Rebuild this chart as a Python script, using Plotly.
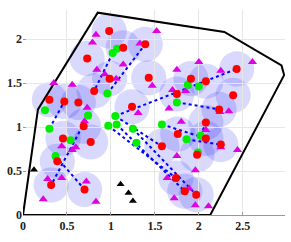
import plotly.graph_objects as go
import numpy as np

# Boundary polygon
boundary_x = [0.0, 0.17, 0.85, 2.29, 2.94, 2.97, 2.13, 0.0]
boundary_y = [0.0, 1.20, 2.30, 2.08, 1.70, 1.59, 0.0, 0.0]

# Red points (final positions, with coverage disks)
red_x = [0.98, 1.14, 0.73, 0.985, 0.81, 0.30, 0.47, 0.63, 1.24, 1.43, 1.39, 1.91, 2.08, 2.43,
         1.75, 2.39, 2.23, 0.69, 0.455, 0.77, 0.39, 0.32, 0.70, 2.08, 1.76, 2.08, 1.58, 2.25,
         1.98, 1.74, 1.84, 1.97]
red_y = [2.09, 1.90, 1.78, 1.55, 1.41, 1.31, 1.29, 1.28, 1.23, 1.56, 1.94, 1.55, 1.52, 1.66,
         1.375, 1.36, 1.20, 1.01, 0.87, 0.83, 0.61, 0.34, 0.29, 1.05, 0.92, 0.87, 0.78, 0.80,
         0.685, 0.42, 0.27, 0.23]
radius = 0.2

# Green points (initial positions)
green_x = [1.02, 1.07, 0.96, 0.25, 0.74, 1.05, 0.30, 0.54, 0.37, 0.97, 1.065, 1.25, 1.29,
           1.875, 2.0, 1.75, 1.58, 1.86, 2.02, 1.99]
green_y = [1.84, 1.89, 1.38, 1.19, 1.13, 1.125, 0.98, 0.85, 0.67, 1.015, 1.03, 0.98, 0.82,
           1.48, 1.46, 1.28, 1.03, 0.86, 0.90, 0.71]

# Trajectory segments: start (x0,y0) -> end (x1,y1)
path_x0 = [1.02, 0.96, 0.30, 0.74, 0.37, 1.05, 1.75, 1.58, 2.02, 1.86, 0.97, 1.065, 1.25, 1.05]
path_y0 = [1.84, 1.38, 0.98, 1.13, 0.67, 1.125, 1.28, 1.03, 0.90, 0.86, 1.015, 1.03, 0.98, 1.125]
path_x1 = [0.81, 1.39, 0.47, 0.32, 0.70, 2.43, 2.23, 2.08, 2.08, 2.25, 1.74, 1.84, 1.97, 1.58]
path_y1 = [1.41, 1.94, 1.29, 0.34, 0.29, 1.66, 1.20, 0.87, 1.05, 0.80, 0.42, 0.27, 0.23, 0.78]

# Covered users (magenta triangles)
user_x = [0.83, 0.79, 0.84, 1.14, 0.93, 1.06, 0.35, 0.56, 0.73, 1.31, 1.33,
          1.52, 2.0, 2.61, 1.75, 2.25, 1.47, 1.70, 1.85, 1.66, 2.24, 2.34,
          0.70, 0.44, 0.56, 0.60, 0.28, 0.44, 0.72, 0.23, 0.83,
          1.80, 2.08, 2.25, 2.44, 1.75, 1.96, 1.64, 1.89, 1.72, 1.96, 2.11]
user_y = [2.05, 1.96, 1.65, 1.71, 1.60, 1.55, 1.50, 1.48, 1.22, 1.16, 1.95,
          2.09, 1.74, 1.74, 1.65, 1.64, 1.47, 1.42, 1.41, 1.21, 1.17, 1.18,
          1.065, 0.78, 0.74, 0.77, 0.41, 0.42, 0.38, 0.18, 0.15,
          1.06, 0.965, 0.77, 0.74, 0.67, 0.51, 0.42, 0.30, 0.19, 0.11, 0.10]

# Uncovered users (black triangles)
unc_x = [0.125, 1.11, 1.20, 1.25]
unc_y = [0.515, 0.35, 0.25, 0.16]

x_ticks = [0, 0.5, 1, 1.5, 2, 2.5]
y_ticks = [0, 0.5, 1, 1.5, 2]

fig = go.Figure()

# coverage disks
shapes = []
for cx, cy in zip(red_x, red_y):
    shapes.append(dict(type="circle", xref="x", yref="y",
                       x0=cx - radius, x1=cx + radius, y0=cy - radius, y1=cy + radius,
                       fillcolor="rgba(20,20,240,0.16)", line=dict(width=0), layer="below"))

# trajectories
for a, b, c, d in zip(path_x0, path_y0, path_x1, path_y1):
    fig.add_trace(go.Scatter(x=[a, c], y=[b, d], mode="lines",
                             line=dict(color="#0000ff", width=2, dash="dot"),
                             showlegend=False, hoverinfo="skip"))

fig.add_trace(go.Scatter(x=boundary_x, y=boundary_y, mode="lines",
                         line=dict(color="black", width=2), showlegend=False))

fig.add_trace(go.Scatter(x=user_x, y=user_y, mode="markers",
                         marker=dict(symbol="triangle-up", size=8, color="#e000e0"),
                         showlegend=False))
fig.add_trace(go.Scatter(x=unc_x, y=unc_y, mode="markers",
                         marker=dict(symbol="triangle-up", size=7, color="black"),
                         showlegend=False))
fig.add_trace(go.Scatter(x=green_x, y=green_y, mode="markers",
                         marker=dict(symbol="circle", size=8, color="#00ee00"),
                         showlegend=False))
fig.add_trace(go.Scatter(x=red_x, y=red_y, mode="markers",
                         marker=dict(symbol="circle", size=8, color="#ff0000"),
                         showlegend=False))

tickfont = dict(family="Liberation Serif", size=12, color="#222222")
fig.update_layout(
    width=291, height=242,
    margin=dict(l=23, r=6, t=10, b=27),
    plot_bgcolor="white", paper_bgcolor="white",
    shapes=shapes,
    xaxis=dict(range=[0, 2.98], tickvals=x_ticks, ticktext=["<b>%g</b>" % v for v in x_ticks],
               showgrid=True, gridcolor="#e6e6e6", gridwidth=1, zeroline=False,
               showline=True, linecolor="#999999", linewidth=1, automargin=False,
               ticks="inside", ticklen=3, tickcolor="#999999", tickfont=tickfont),
    yaxis=dict(range=[0, 2.33], tickvals=y_ticks, ticktext=["<b>%g</b>" % v for v in y_ticks],
               showgrid=True, gridcolor="#e6e6e6", gridwidth=1, zeroline=False,
               showline=False, ticks="inside", ticklen=3, tickcolor="#999999",
               automargin=False, tickfont=tickfont),
)

fig.write_html("out.html", config={"displayModeBar": False},
               post_script="document.body.style.margin='0';document.body.style.overflow='hidden';")
